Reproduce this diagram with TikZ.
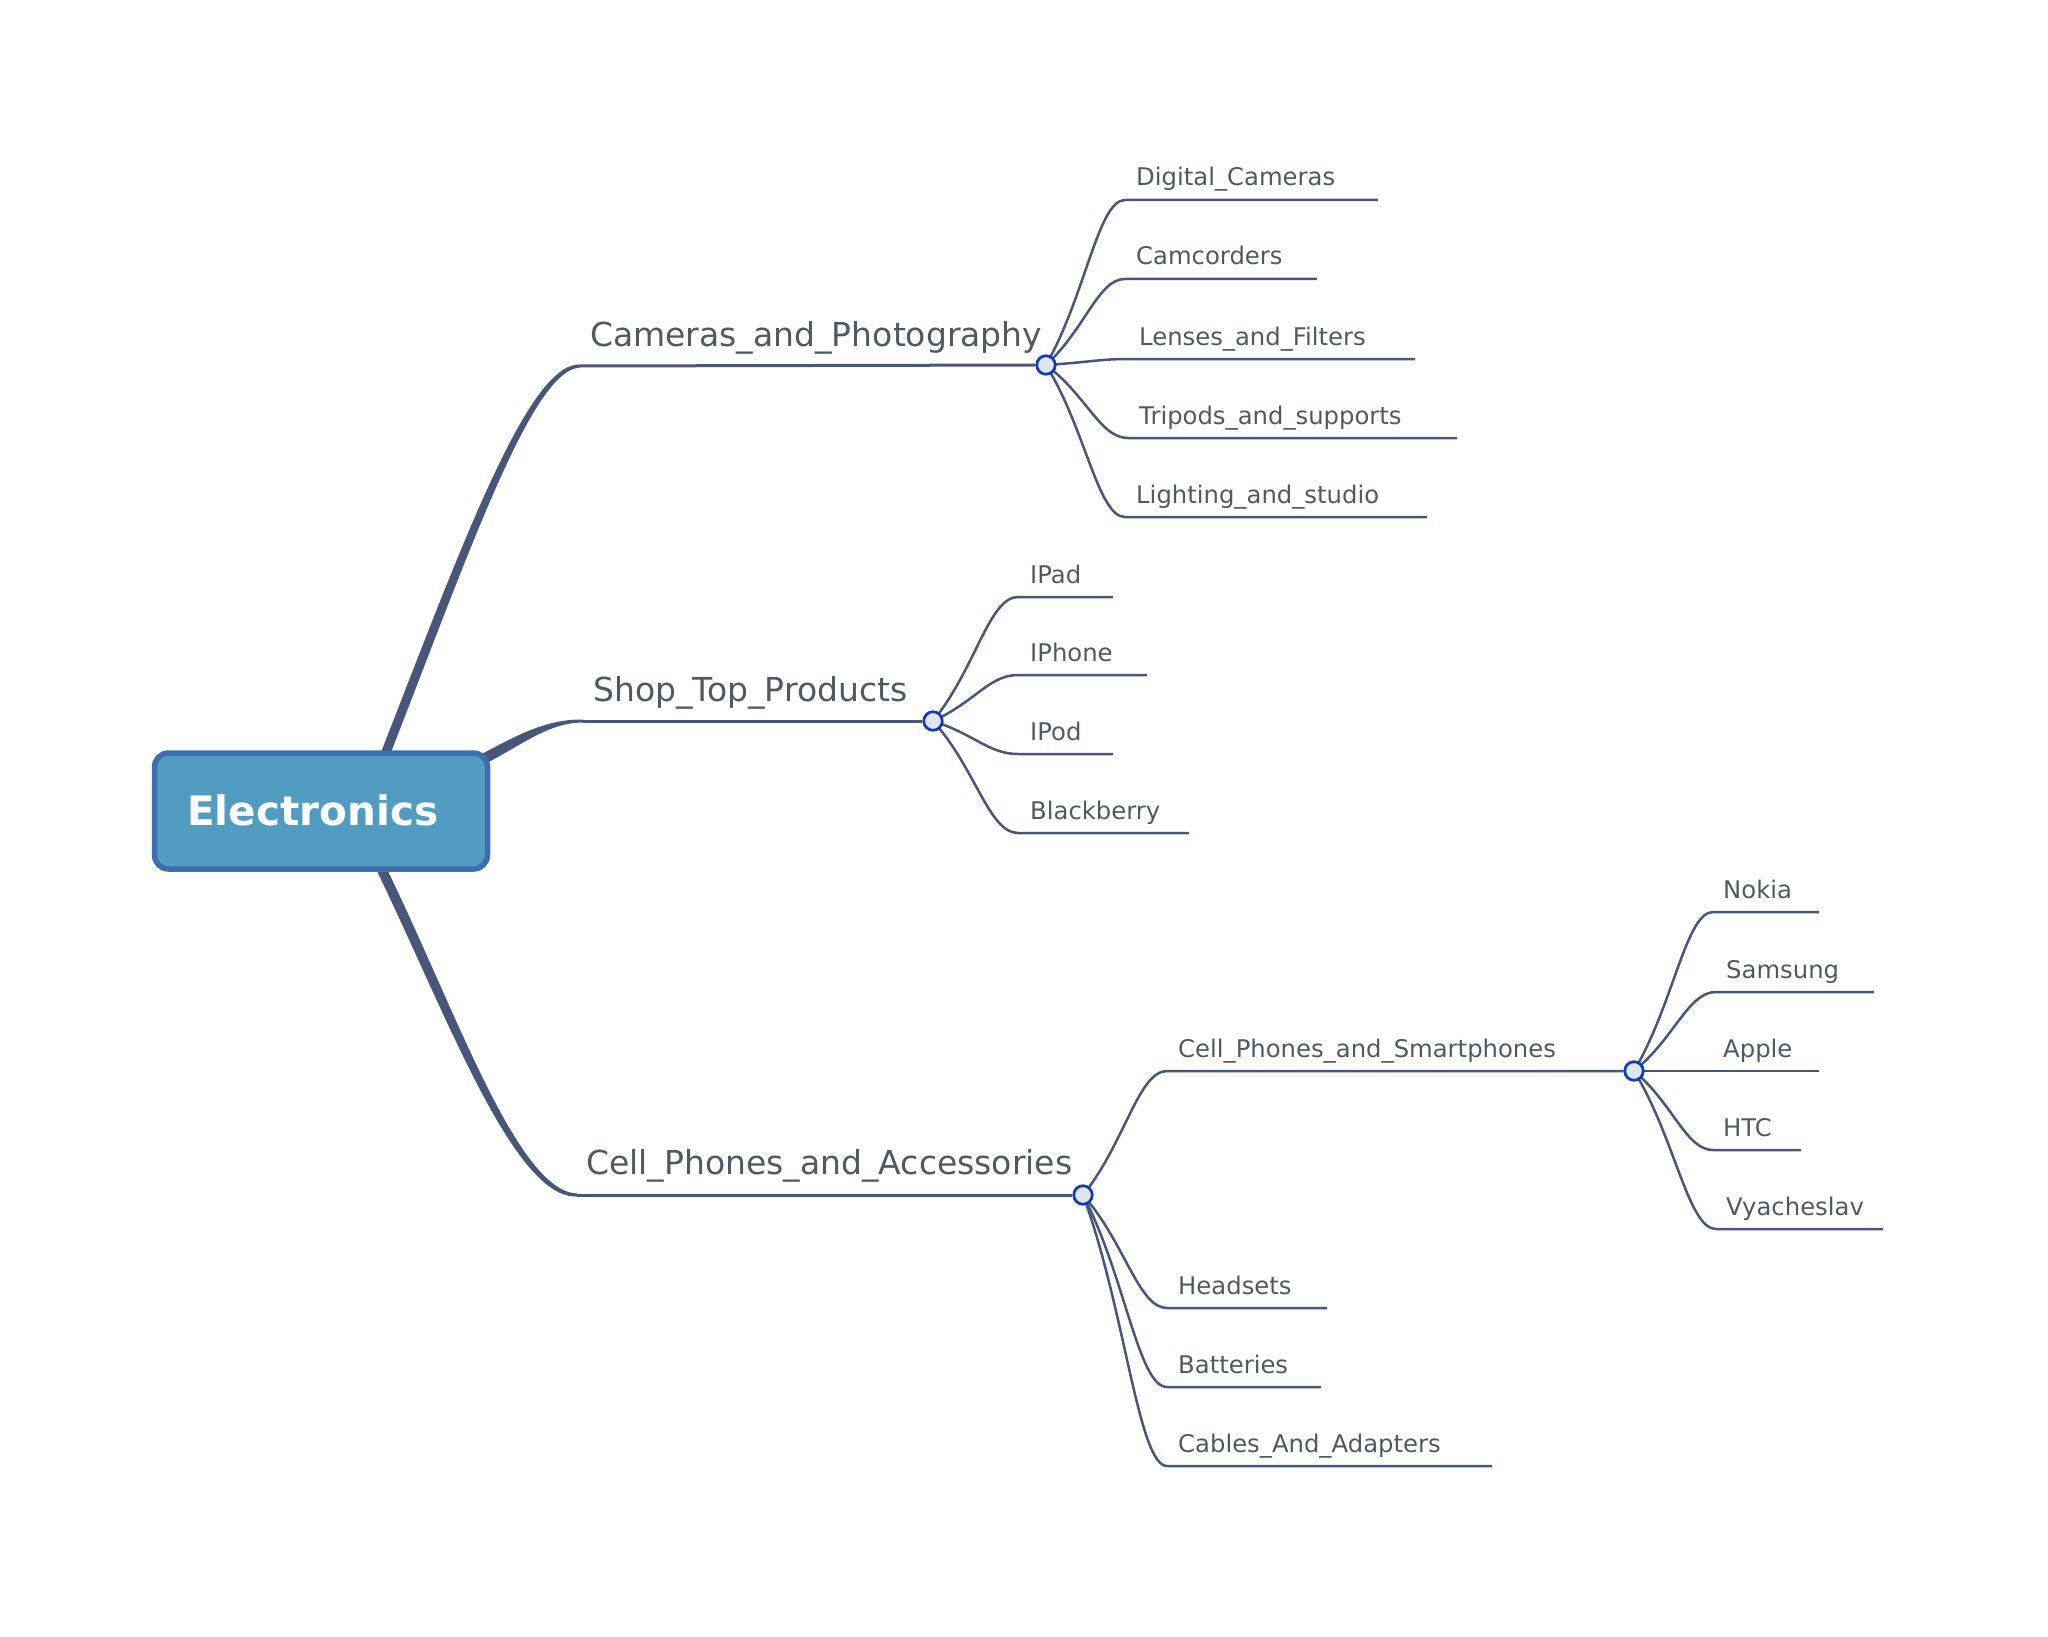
\documentclass[tikz,border=0pt]{standalone}
\usepackage{fontspec}
\setmainfont{DejaVu Sans}
\usetikzlibrary{calc}
\pgfdeclarelayer{background}
\pgfsetlayers{background,main}
\definecolor{linec}{HTML}{485679}
\definecolor{txtc}{HTML}{4E5961}
\definecolor{hubfill}{HTML}{E0E4EF}
\definecolor{hubline}{HTML}{0B3CC0}
\definecolor{rootfill}{HTML}{539CC1}
\definecolor{rootline}{HTML}{3C6EB0}
\newcommand\mmbranch[3]{\draw[subline] let \p1=(#1.center), \p2=(#2) in (\p1) .. controls ({\x1+0.5*(\x2-\x1)},{\y1+0.42*(\y2-\y1)}) and ({\x2-0.34*(\x2-\x1)},{\y2}) .. (\p2) -- (#3);}
\newcommand\mmleaf[6]{% name, x0, x1, y, text, dx
  \coordinate (#1s) at (#2,#4);
  \coordinate (#1e) at (#3,#4);
  \node[leaf] (#1) at (#2+#6,#4-14) {#5};}
\begin{document}
\begin{tikzpicture}[x=1pt,y=-1pt,
 hub/.style={circle,draw=hubline,fill=hubfill,line width=2.7pt,minimum size=18.5pt,inner sep=0pt},
 leaf/.style={anchor=base west,inner sep=0pt,text=txtc,font=\fontsize{24.3}{29}\selectfont},
 topic/.style={anchor=base west,inner sep=0pt,text=txtc,font=\fontsize{33}{39}\selectfont},
 subline/.style={draw=linec,line width=2.5pt},
 mainline/.style={draw=linec,line width=3pt},
 mainfill/.style={fill=linec},
 rootbox/.style={draw=rootline,fill=rootfill,line width=5.5pt,rounded corners=14pt,minimum width=333pt,minimum height=116pt,inner sep=0pt}]
\useasboundingbox (0,0) rectangle (2048,1637);

% root
\node[rootbox] (root) at (321,811) {};
\node[anchor=base west,inner sep=0pt,text=white,font=\fontsize{40.5}{48}\selectfont\bfseries] (rootlabel) at (187,825) {Electronics};

% hubs
\node[hub] (h1) at (1046,365) {};
\node[hub] (h2) at (933,721) {};
\node[hub] (h3) at (1083,1195) {};
\node[hub] (h4) at (1634,1071) {};

% main topics
\coordinate (camS) at (383,760);
\coordinate (camE) at (580,366);
\node[topic] (cam) at (590,346) {Cameras\_and\_Photography};
\coordinate (shopS) at (470,766);
\coordinate (shopE) at (583,721);
\node[topic] (shop) at (593,701) {Shop\_Top\_Products};
\coordinate (cellS) at (379,864);
\coordinate (cellE) at (577,1195);
\node[topic] (cell) at (586,1174) {Cell\_Phones\_and\_Accessories};

% leaves
\mmleaf{dc}{1125}{1378}{200}{Digital\_Cameras}{11}
\mmleaf{cc}{1125}{1317}{279}{Camcorders}{11}
\mmleaf{lf}{1128}{1415}{359}{Lenses\_and\_Filters}{11}
\mmleaf{tp}{1128}{1457}{438}{Tripods\_and\_supports}{11}
\mmleaf{ls}{1125}{1427}{517}{Lighting\_and\_studio}{11}

\mmleaf{ipad}{1018}{1113}{597}{IPad}{12}
\mmleaf{iphone}{1018}{1147}{675}{IPhone}{12}
\mmleaf{ipod}{1018}{1113}{754}{IPod}{12}
\mmleaf{bb}{1018}{1189}{833}{Blackberry}{12}

\coordinate (sps) at (1167,1071);
\node[leaf] (sp) at (1178,1057) {Cell\_Phones\_and\_Smartphones};
\mmleaf{hs}{1167}{1327}{1308}{Headsets}{11}
\mmleaf{bt}{1167}{1321}{1387}{Batteries}{11}
\mmleaf{ca}{1167}{1492}{1466}{Cables\_And\_Adapters}{11}

\mmleaf{nokia}{1713}{1819}{912}{Nokia}{10}
\mmleaf{samsung}{1716}{1874}{992}{Samsung}{10}
\mmleaf{apple}{1713}{1819}{1071}{Apple}{10}
\mmleaf{htc}{1713}{1801}{1150}{HTC}{10}
\mmleaf{vy}{1716}{1883}{1229}{Vyacheslav}{10}

\begin{pgfonlayer}{background}
% tapered main branches
\fill[mainfill] ($(camS)+(-5,0)$) .. controls (460,550) and (528,362) .. ($(camE)+(0,-1.5)$) -- ($(camE)+(0,1.5)$) .. controls (532,370) and (470,550) .. ($(camS)+(5,0)$) -- cycle;
\fill[mainfill] ($(shopS)+(-2,-4.5)$) .. controls (515,736) and (545,719) .. ($(shopE)+(0,-1.5)$) -- ($(shopE)+(0,1.5)$) .. controls (545,723) and (521,747) .. ($(shopS)+(2,4.5)$) -- cycle;
\fill[mainfill] ($(cellS)+(-5.5,0)$) .. controls (445,1010) and (513,1199) .. ($(cellE)+(0,1.5)$) -- ($(cellE)+(0,-1.5)$) .. controls (517,1191) and (456,1010) .. ($(cellS)+(5.5,0)$) -- cycle;
\draw[mainline] (camE) -- (h1);
\draw[mainline] (shopE) -- (h2);
\draw[mainline] (cellE) -- (h3);
% sub branches
\mmbranch{h1}{dcs}{dce}
\mmbranch{h1}{ccs}{cce}
\mmbranch{h1}{lfs}{lfe}
\mmbranch{h1}{tps}{tpe}
\mmbranch{h1}{lss}{lse}
\mmbranch{h2}{ipads}{ipade}
\mmbranch{h2}{iphones}{iphonee}
\mmbranch{h2}{ipods}{ipode}
\mmbranch{h2}{bbs}{bbe}
\mmbranch{h3}{sps}{h4}
\mmbranch{h3}{hss}{hse}
\mmbranch{h3}{bts}{bte}
\mmbranch{h3}{cas}{cae}
\mmbranch{h4}{nokias}{nokiae}
\mmbranch{h4}{samsungs}{samsunge}
\mmbranch{h4}{apples}{applee}
\mmbranch{h4}{htcs}{htce}
\mmbranch{h4}{vys}{vye}
\end{pgfonlayer}
\end{tikzpicture}
\end{document}
